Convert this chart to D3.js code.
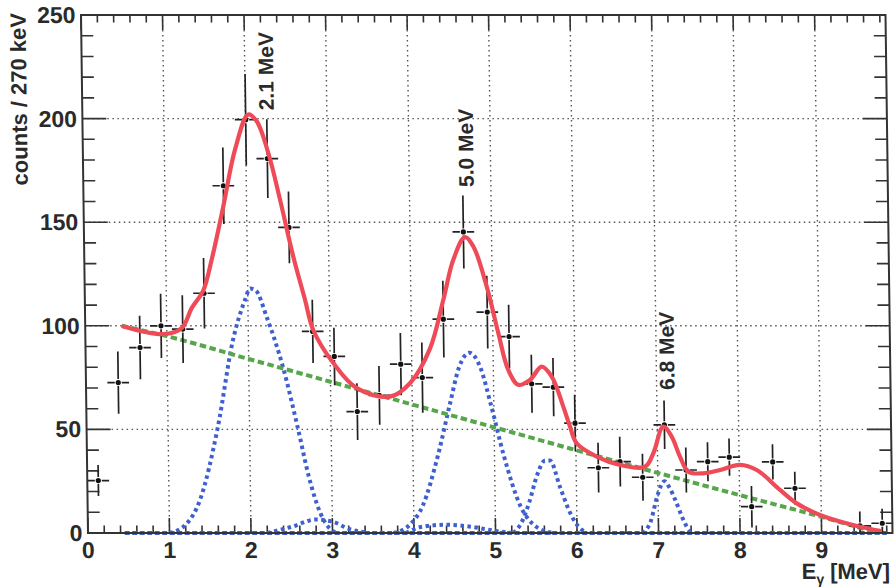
<!DOCTYPE html>
<html>
<head>
<meta charset="utf-8">
<script src="https://cdn.jsdelivr.net/npm/d3@7"></script>
<style>
  html, body { margin: 0; padding: 0; background: #fff; }
  svg { display: block; }
  text { font-family: "Liberation Sans", Arial, Helvetica, sans-serif; fill: #2a2a2a; }
</style>
</head>
<body>
<svg id="chart" width="894" height="588"></svg>
<script>
// ---- measured spectrum: bin centres [MeV], counts and their errors ----
const binCenters = [0.135, 0.396, 0.669, 0.930, 1.196, 1.463, 1.718, 2.003, 2.262, 2.516,
                    2.790, 3.051, 3.324, 3.597, 3.865, 4.127, 4.395, 4.655, 4.935, 5.198,
                    5.468, 5.733, 5.993, 6.272, 6.539, 6.815, 7.089, 7.348, 7.615, 7.880,
                    8.147, 8.412, 8.681, 9.472, 9.746];
const counts = [25.3, 72.6, 89.5, 100, 98.4, 115.7, 167.6, 199.5, 180.7, 147.5,
                97.3, 85.2, 58.6, 66.4, 81.5, 75, 103.2, 145.3, 106.6, 94.8,
                72, 70.4, 53, 31.5, 34.4, 26.9, 52.2, 30.4, 34.4, 36.6,
                12.7, 34.3, 21.6, 3.4, 4.7];
const countErrors = [7.5, 15, 15.3, 15.5, 16.3, 17, 18.5, 22, 19, 17.3,
                     15.3, 13.9, 13.7, 14.2, 15, 17, 18.5, 17.6, 17.5, 15.3,
                     14, 14, 13.7, 12, 12, 11.3, 11.7, 10.9, 9.4, 9,
                     10, 8.5, 8, 7, 7];
const binHalfWidth = 0.133;

// ---- total fit ----
const fitE = [0.467, 0.957, 1.184, 1.309, 1.454, 1.563, 1.714, 1.867, 2.036, 2.138,
              2.275, 2.411, 2.564, 2.701, 2.797, 3.038, 3.321, 3.727, 3.975, 4.226,
              4.398, 4.527, 4.674, 4.775, 4.932, 5.067, 5.183, 5.304, 5.448, 5.594,
              5.715, 5.852, 5.931, 6.010, 6.253, 6.538, 6.845, 6.949, 7.075, 7.177,
              7.275, 7.375, 7.559, 7.765, 8.010, 8.215, 8.497, 8.700, 8.983, 9.228,
              9.472, 9.717];
const fitCounts = [99.7, 96, 98.9, 108.5, 117, 132, 157.6, 185, 202, 198.7,
                   183.4, 160.9, 133.5, 112.6, 98, 82, 69.9, 65.8, 72.3, 89,
                   112.6, 131.9, 142.8, 138.3, 119, 96.5, 78.7, 71.5, 73.9, 80.3,
                   75.5, 61, 51.4, 43.3, 36.9, 32.9, 32, 38.5, 51.4, 46.5,
                   36.9, 29.6, 28.8, 30.4, 32.9, 30.4, 20.8, 14.3, 8.7, 5.5,
                   3, 1];

// ---- background component ----
const bgE = [0.45, 1.0, 2.0, 3.0, 4.0, 5.0, 6.0, 7.0, 8.0, 9.0, 9.47, 9.7];
const bgCounts = [100, 95, 84, 73, 62, 51, 40, 29, 18.3, 7.8, 2.5, 0];

// ---- peak components ----
const peak1E = [1.0, 1.2, 1.38, 1.61, 1.81, 1.96, 2.03, 2.1, 2.23, 2.42, 2.59, 2.72, 2.85, 2.97, 3.05];
const peak1Counts = [0, 4, 16, 51, 93, 112, 118, 117, 104, 80, 51, 27, 10, 2, 0];
const bump1E = [2.2, 2.5, 2.8, 3.0, 3.2, 3.45];
const bump1Counts = [0, 3, 6.5, 5.5, 2, 0];
const peak2E = [3.75, 3.95, 4.11, 4.31, 4.46, 4.58, 4.71, 4.84, 4.97, 5.11, 5.31, 5.5, 5.7];
const peak2Counts = [0, 4, 13, 38, 62, 80, 87, 80, 61, 38, 13, 3, 0];
const bump2E = [3.9, 4.1, 4.4, 4.7, 5.0, 5.2];
const bump2Counts = [0, 3, 4, 3, 1, 0];
const peak3E = [5.22, 5.32, 5.42, 5.52, 5.62, 5.68, 5.8, 5.92, 6.0, 6.06, 6.12];
const peak3Counts = [0, 5, 15, 28, 35, 35, 22, 9.6, 4, 1.5, 0];
const peak4E = [6.8, 6.9, 7.0, 7.08, 7.14, 7.21, 7.31, 7.38, 7.42];
const peak4Counts = [0, 5, 19, 25, 22, 16, 6, 1, 0];
const componentRange = [0.45, 9.8];

// ---- peak annotations ----
const peakLabels = ["2.1 MeV", "5.0 MeV", "6.8 MeV"];
const peakLabelE = [2.35, 4.79, 7.22];
const peakLabelCounts = [204, 167, 69];

// ---- axes ----
const xTickValues = [0, 1, 2, 3, 4, 5, 6, 7, 8, 9];
const yTickValues = [0, 50, 100, 150, 200, 250];
const xTitle = "E";
const xTitleSub = "\u03b3";
const xTitleUnit = " [MeV]";
const yTitle = "counts / 270 keV";

// ---------------------------------------------------------------
const W = 894, H = 588;
const pLeft = 84.5, pRight = 889, pTop = 15, pBottom = 533;
const shear = 0.0135;              // the printed frame leans slightly
const midY = (pTop + pBottom) / 2;

const x = d3.scaleLinear().domain([0, (pRight - pLeft) / 81.51]).range([pLeft, pRight]);
const y = d3.scaleLinear().domain([0, 250]).range([pBottom, pTop]);

const svg = d3.select("#chart");
svg.append("rect").attr("width", W).attr("height", H).attr("fill", "#fff");
const g = svg.append("g")
  .attr("transform", `translate(${-shear * midY},0) skewX(${Math.atan(shear) * 180 / Math.PI})`);

const ink = "#333";
const gridColor = "#555";

// grid
const gGrid = g.append("g");
gGrid.selectAll("line.vx").data(xTickValues.filter(v => v > 0)).join("line")
  .attr("x1", d => x(d)).attr("x2", d => x(d)).attr("y1", pTop).attr("y2", pBottom)
  .attr("stroke", gridColor).attr("stroke-width", 1.4).attr("stroke-dasharray", "1.5,3.5");
gGrid.selectAll("line.hy").data(yTickValues.filter(v => v > 0 && v < 250)).join("line")
  .attr("y1", d => y(d)).attr("y2", d => y(d)).attr("x1", pLeft).attr("x2", pRight)
  .attr("stroke", gridColor).attr("stroke-width", 1.4).attr("stroke-dasharray", "1.5,3.5");

// ticks, inward on all four sides
const xMajor = xTickValues;
const xMinor = d3.range(0, x.domain()[1], 0.2).filter(v => Math.abs(v - Math.round(v)) > 1e-6);
const yMinor = d3.range(0, 251, 10).filter(v => v % 50 !== 0);
const tk = g.append("g").attr("stroke", ink).attr("stroke-width", 1.6);
const xLen = 15, yLen = 24;
[[pBottom, -1], [pTop, 1]].forEach(([base, dir]) => {
  tk.selectAll(null).data(xMajor).join("line")
    .attr("x1", d => x(d)).attr("x2", d => x(d)).attr("y1", base).attr("y2", base + dir * xLen);
  tk.selectAll(null).data(xMinor).join("line")
    .attr("x1", d => x(d)).attr("x2", d => x(d)).attr("y1", base).attr("y2", base + dir * xLen / 2);
});
[[pLeft, 1], [pRight, -1]].forEach(([base, dir]) => {
  tk.selectAll(null).data(yTickValues).join("line")
    .attr("y1", d => y(d)).attr("y2", d => y(d)).attr("x1", base).attr("x2", base + dir * yLen);
  tk.selectAll(null).data(yMinor).join("line")
    .attr("y1", d => y(d)).attr("y2", d => y(d)).attr("x1", base).attr("x2", base + dir * yLen / 2);
});

// curves
const pts = (es, cs) => es.map((e, i) => [e, cs[i]]);
const line = d3.line().x(d => x(d[0])).y(d => y(d[1])).curve(d3.curveMonotoneX);
const smooth = d3.line().x(d => x(d[0])).y(d => y(d[1])).curve(d3.curveCatmullRom.alpha(0.5));
const blue = "#3e5fd0";
const gCurves = g.append("g").attr("fill", "none");

// baseline of the peak components (they are evaluated over the whole fit range)
gCurves.append("path")
  .attr("d", line([[componentRange[0], 0], [componentRange[1], 0]]))
  .attr("stroke", blue).attr("stroke-width", 4).attr("stroke-dasharray", "5,2.5");

[[peak1E, peak1Counts], [bump1E, bump1Counts], [peak2E, peak2Counts], [bump2E, bump2Counts],
 [peak3E, peak3Counts], [peak4E, peak4Counts]].forEach(([es, cs]) => {
  gCurves.append("path").attr("d", line(pts(es, cs)))
    .attr("stroke", blue).attr("stroke-width", 4).attr("stroke-dasharray", "3.5,3.5");
});

gCurves.append("path").attr("d", line(pts(bgE, bgCounts)))
  .attr("stroke", "#58a64c").attr("stroke-width", 4).attr("stroke-dasharray", "6.5,3.5");

// data points with error bars
const gData = g.append("g").attr("stroke", "#222").attr("stroke-width", 1.7);
const data = binCenters.map((e, i) => ({ e, c: counts[i], err: countErrors[i] }));
const gap = 3.5;
data.forEach(d => {
  const cx = x(d.e), cy = y(d.c);
  gData.append("line").attr("x1", cx).attr("x2", cx).attr("y1", y(d.c + d.err)).attr("y2", cy - gap);
  gData.append("line").attr("x1", cx).attr("x2", cx).attr("y1", cy + gap).attr("y2", Math.min(pBottom, y(d.c - d.err)));
  gData.append("line").attr("y1", cy).attr("y2", cy).attr("x1", x(d.e - binHalfWidth)).attr("x2", cx - gap);
  gData.append("line").attr("y1", cy).attr("y2", cy).attr("x1", cx + gap).attr("x2", x(d.e + binHalfWidth));
});
g.append("g").selectAll("circle").data(data).join("circle")
  .attr("cx", d => x(d.e)).attr("cy", d => y(d.c)).attr("r", 2.6).attr("fill", "#111");

// total fit on top
g.append("path").attr("d", smooth(pts(fitE, fitCounts)))
  .attr("fill", "none").attr("stroke", "#ef4a58").attr("stroke-width", 4.2)
  .attr("stroke-linejoin", "round").attr("stroke-linecap", "round");

// frame
g.append("rect").attr("x", pLeft).attr("y", pTop).attr("width", pRight - pLeft).attr("height", pBottom - pTop)
  .attr("fill", "none").attr("stroke", ink).attr("stroke-width", 2);

// tick labels
const labFont = 23;
g.append("g").selectAll("text").data(xTickValues).join("text")
  .attr("x", d => x(d)).attr("y", 558).attr("text-anchor", "middle")
  .attr("font-size", labFont).attr("font-weight", "bold").text(d => d);
g.append("g").selectAll("text").data(yTickValues).join("text")
  .attr("x", 79).attr("y", d => y(d) + 8).attr("text-anchor", "end")
  .attr("font-size", labFont).attr("font-weight", "bold").text(d => d);

// axis titles
const xt = g.append("text").attr("x", 886).attr("y", 579).attr("text-anchor", "end")
  .attr("font-size", 22).attr("font-weight", "bold");
xt.append("tspan").text(xTitle);
xt.append("tspan").attr("font-size", 14).attr("dy", 5).text(xTitleSub);
xt.append("tspan").attr("dy", -5).text(xTitleUnit);

g.append("text").attr("transform", `translate(29,${pTop - 2}) rotate(-90)`)
  .attr("text-anchor", "end").attr("font-size", 22).attr("font-weight", "bold").text(yTitle);

// peak labels
g.append("g").selectAll("text").data(peakLabels).join("text")
  .attr("transform", (d, i) => `translate(${x(peakLabelE[i])},${y(peakLabelCounts[i])}) rotate(-90)`)
  .attr("font-size", 21).attr("font-weight", "bold").text(d => d);
</script>
</body>
</html>
